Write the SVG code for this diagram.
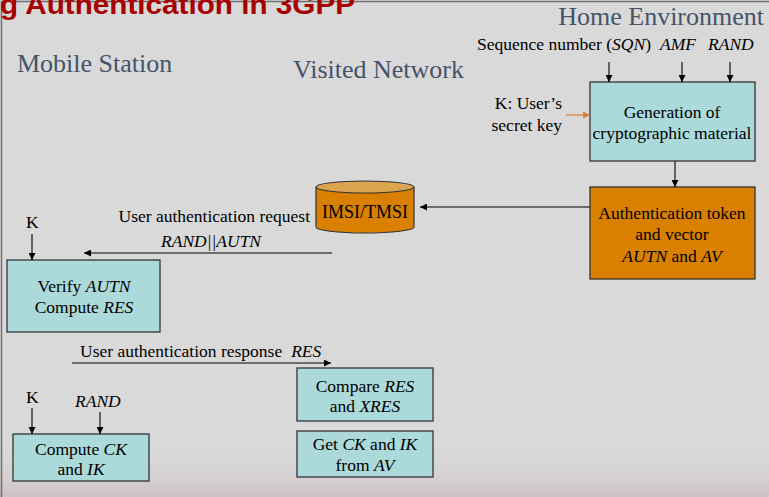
<svg xmlns="http://www.w3.org/2000/svg" width="769" height="497" viewBox="0 0 769 497">
  <defs>
    <marker id="arrow" viewBox="0 0 10 10" refX="10" refY="5" markerWidth="7" markerHeight="7" markerUnits="userSpaceOnUse" orient="auto">
      <path d="M0,0 L10,5 L0,10 z" fill="#000"/>
    </marker>
    <marker id="arrow-orange" viewBox="0 0 10 10" refX="10" refY="5" markerWidth="7" markerHeight="7" markerUnits="userSpaceOnUse" orient="auto">
      <path d="M0,0 L10,5 L0,10 z" fill="#e07b39"/>
    </marker>
    <linearGradient id="floor" x1="0" y1="0" x2="0" y2="1">
      <stop offset="0" stop-color="#d9d9d9" stop-opacity="0"/>
      <stop offset="1" stop-color="#c9b8bb" stop-opacity="0.7"/>
    </linearGradient>
  </defs>
  <style>
    .t { font-family: "Liberation Serif", "Times New Roman", serif; fill: #000; }
    .hdr { font-family: "Liberation Serif", "Times New Roman", serif; fill: #44546a; font-size: 26px; }
    .box { font-size: 17.5px; text-anchor: middle; }
    .lbl { font-size: 17.5px; }
    .teal { fill: #acd9d9; stroke: #333; stroke-width: 1.3; }
    .orange { fill: #d98000; stroke: #333; stroke-width: 1.3; }
    .conn { stroke: #000; stroke-width: 1.1; fill: none; marker-end: url(#arrow); }
    .it { font-style: italic; }
  </style>

  <!-- slide background -->
  <rect width="769" height="497" fill="#d9d9d9"/>
  <rect x="0" y="440" width="769" height="57" fill="url(#floor)"/>
  <path d="M1.5,497 V1.5 H769" fill="none" stroke="#6f6f6f" stroke-width="1.5"/>

  <!-- slide title (runs off the top edge) -->
  <text x="0" y="14" font-family="'Liberation Sans', Arial, sans-serif" font-weight="bold" font-size="28" fill="#a80000" textLength="355" lengthAdjust="spacingAndGlyphs">g Authentication in 3GPP</text>

  <!-- column headings -->
  <text class="hdr" x="17" y="72">Mobile Station</text>
  <text class="hdr" x="293" y="78">Visited Network</text>
  <text class="hdr" x="764" y="25" text-anchor="end">Home Environment</text>

  <!-- inputs and message labels -->
  <text class="t lbl" x="477" y="50">Sequence number (<tspan class="it">SQN</tspan>)</text>
  <text class="t lbl it" x="660" y="50">AMF</text>
  <text class="t lbl it" x="708" y="50">RAND</text>
  <text class="t lbl" x="562" y="109" text-anchor="end">K: User’s</text>
  <text class="t lbl" x="562" y="131" text-anchor="end">secret key</text>
  <text class="t lbl" x="310" y="222" text-anchor="end">User authentication request</text>
  <text class="t lbl it" x="161" y="247">RAND||AUTN</text>
  <text class="t lbl" x="26" y="228">K</text>
  <text class="t lbl" x="80" y="357">User authentication response<tspan class="it" dx="9">RES</tspan></text>
  <text class="t lbl" x="26" y="403">K</text>
  <text class="t lbl it" x="75" y="407">RAND</text>

  <!-- nodes -->
  <g id="gen">
    <rect class="teal" x="590" y="82" width="165" height="79"/>
    <text class="t box" x="672" y="118">Generation of</text>
    <text class="t box" x="672" y="139">cryptographic material</text>
  </g>
  <g id="token">
    <rect class="orange" x="590" y="187" width="165" height="92"/>
    <text class="t box" x="672" y="219">Authentication token</text>
    <text class="t box" x="672" y="240">and vector</text>
    <text class="t box" x="672" y="262"><tspan class="it">AUTN</tspan> and <tspan class="it">AV</tspan></text>
  </g>
  <g id="imsi">
    <path d="M316,187 V227 A49,6 0 0 0 414,227 V187" fill="#d98000" stroke="#333" stroke-width="1.2"/>
    <ellipse cx="365" cy="187" rx="49" ry="6" fill="#dda450" stroke="#333" stroke-width="1.2"/>
    <text class="t" x="365" y="218" font-size="18" text-anchor="middle">IMSI/TMSI</text>
  </g>
  <g id="verify">
    <rect class="teal" x="7" y="260" width="153" height="72"/>
    <text class="t box" x="84" y="292">Verify <tspan class="it">AUTN</tspan></text>
    <text class="t box" x="84" y="313">Compute <tspan class="it">RES</tspan></text>
  </g>
  <g id="compare">
    <rect class="teal" x="297" y="368" width="136" height="53"/>
    <text class="t box" x="365" y="392">Compare <tspan class="it">RES</tspan></text>
    <text class="t box" x="365" y="412">and <tspan class="it">XRES</tspan></text>
  </g>
  <g id="getkeys">
    <rect class="teal" x="297" y="431" width="136" height="46"/>
    <text class="t box" x="365" y="450">Get <tspan class="it">CK</tspan> and <tspan class="it">IK</tspan></text>
    <text class="t box" x="365" y="471">from <tspan class="it">AV</tspan></text>
  </g>
  <g id="computeck">
    <rect class="teal" x="13" y="434" width="136" height="47"/>
    <text class="t box" x="81" y="455">Compute <tspan class="it">CK</tspan></text>
    <text class="t box" x="81" y="475">and <tspan class="it">IK</tspan></text>
  </g>

  <!-- connectors -->
  <g id="connectors">
    <line class="conn" x1="609" y1="62" x2="609" y2="82"/>
    <line class="conn" x1="682" y1="62" x2="682" y2="82"/>
    <line class="conn" x1="730" y1="62" x2="730" y2="82"/>
    <line x1="566" y1="115" x2="590" y2="115" stroke="#e07b39" stroke-width="1.2" marker-end="url(#arrow-orange)"/>
    <line class="conn" x1="675" y1="161" x2="675" y2="187"/>
    <line class="conn" x1="590" y1="207" x2="420" y2="207"/>
    <line class="conn" x1="332" y1="253" x2="84" y2="253"/>
    <line class="conn" x1="32" y1="234" x2="32" y2="260"/>
    <line class="conn" x1="72" y1="363" x2="331" y2="363"/>
    <line class="conn" x1="32" y1="408" x2="32" y2="434"/>
    <line class="conn" x1="100" y1="412" x2="100" y2="434"/>
  </g>
</svg>
